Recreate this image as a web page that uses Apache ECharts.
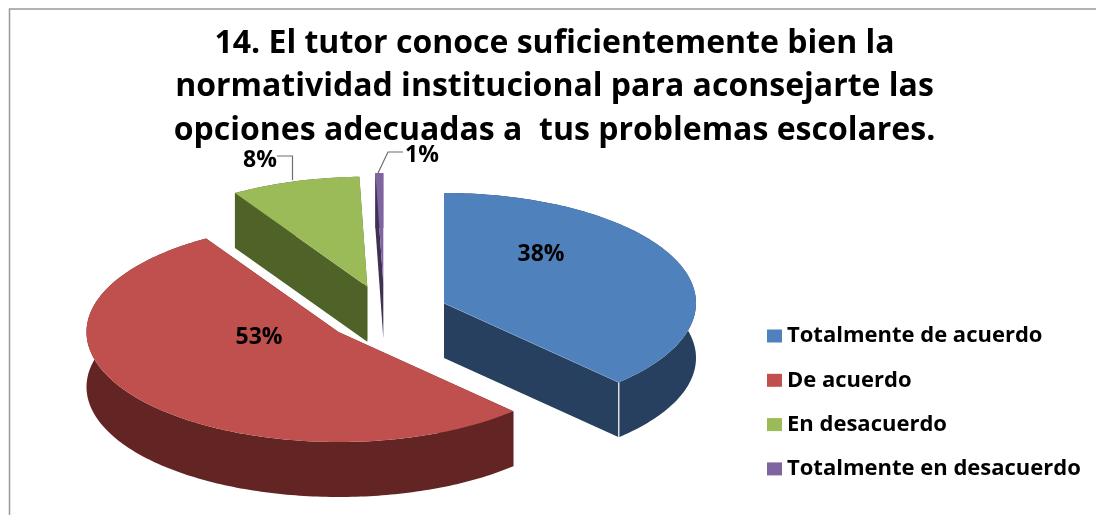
<!DOCTYPE html>
<html>
<head>
<meta charset="utf-8">
<style>
  html, body { margin: 0; padding: 0; background: #fff; }
  #chart { width: 1096px; height: 515px; }
</style>
</head>
<body>
<div id="chart"></div>
<script src="https://cdn.jsdelivr.net/npm/echarts@6/dist/echarts.min.js"></script>
<script>
const titleLines = [
  '14. El tutor conoce suficientemente bien la',
  'normatividad institucional para aconsejarte las',
  'opciones adecuadas a  tus problemas escolares.'
]
const categories = ['Totalmente de acuerdo', 'De acuerdo', 'En desacuerdo', 'Totalmente en desacuerdo']
// the labels show them rounded
const shares = [37.8, 53.4, 8.3, 0.5]

const topColors = ['#4F81BD', '#C0504D', '#9BBB59', '#8064A2']
const wallColors = ['#27405F', '#632523', '#4F6228', '#3F3151']
const font = '"Open Sans", sans-serif'

// pie layout: ellipse radii, wall height, and where each exploded slice has its tip
const radiusX = 252
const radiusY = 110
const depth = 55
const tips = [[444, 303], [338.5, 332], [367.3, 286.7], [383.3, 283]]
const labelCenters = [[541, 254], [259, 337], [260, 160], [422, 155]]
const leaders = [
  null,
  null,
  [[277, 156], [292.5, 156], [292.5, 180]],
  [[378, 173], [388, 152], [403, 152]]
]
// back slices are painted first
const paintOrder = [2, 3, 1, 4]

const total = shares.reduce((a, b) => a + b, 0)

// clockwise from twelve o'clock, in radians
const sliceAngles = (index) => {
  const before = shares.slice(0, index).reduce((a, b) => a + b, 0)
  return [before / total * Math.PI * 2, (before + shares[index]) / total * Math.PI * 2]
}

const renderSlice = (index) => (params, api) => {
  const [start, end] = sliceAngles(index)
  const [cx, cy] = tips[index]
  const edge = (a) => [cx + Math.sin(a) * radiusX, cy - Math.cos(a) * radiusY]
  const down = (p) => [p[0], p[1] + depth]

  const arc = []
  const steps = Math.max(2, Math.ceil((end - start) * 180 / Math.PI))
  for (let i = 0; i <= steps; i++) {
    arc.push(edge(start + (end - start) * i / steps))
  }
  const tip = [cx, cy]
  const wallFill = { fill: wallColors[index] }
  const children = [
    { type: 'polygon', shape: { points: [tip, arc[0], down(arc[0]), down(tip)] }, style: wallFill },
    { type: 'polygon', shape: { points: [tip, arc[steps], down(arc[steps]), down(tip)] }, style: wallFill },
    { type: 'polygon', shape: { points: arc.concat(arc.map(down).reverse()) }, style: wallFill }
  ]
  // thin white corner where the end of a slice faces the viewer
  if (Math.cos(end) < 0) {
    children.push({
      type: 'line',
      shape: { x1: arc[steps][0], y1: arc[steps][1], x2: arc[steps][0], y2: arc[steps][1] + depth },
      style: { stroke: '#fff', lineWidth: 1.2 }
    })
    children.push({
      type: 'line',
      shape: { x1: cx, y1: cy, x2: arc[steps][0], y2: arc[steps][1] },
      style: { stroke: '#A9C0DC', lineWidth: 1 }
    })
  }
  children.push({
    type: 'polygon',
    shape: { points: [tip].concat(arc) },
    style: { fill: topColors[index] }
  })
  if (leaders[index]) {
    children.push({
      type: 'polyline',
      shape: { points: leaders[index] },
      style: { stroke: '#6E6E6E', lineWidth: 1.2, fill: 'none' }
    })
  }
  children.push({
    type: 'text',
    style: {
      text: Math.round(api.value(0)) + '%',
      x: labelCenters[index][0],
      y: labelCenters[index][1],
      fill: '#000',
      font: 'bold 23px ' + font,
      textAlign: 'center',
      textVerticalAlign: 'middle'
    }
  })
  return { type: 'group', children: children }
}

const series = categories.map((name, index) => ({
  name: name,
  type: 'custom',
  coordinateSystem: 'none',
  z: paintOrder[index],
  animation: false,
  silent: true,
  itemStyle: { color: topColors[index] },
  data: [[shares[index]]],
  renderItem: renderSlice(index)
}))

const chart = echarts.init(document.getElementById('chart'), null, { renderer: 'canvas' })
chart.setOption({
  animation: false,
  backgroundColor: '#fff',
  title: {
    text: titleLines.join('\n'),
    left: 549.5,
    top: 17,
    textAlign: 'center',
    textStyle: {
      color: '#000',
      fontFamily: font,
      fontWeight: 'bold',
      fontSize: 32,
      lineHeight: 43.5
    }
  },
  legend: {
    data: categories,
    orient: 'vertical',
    left: 762,
    top: 320,
    icon: 'rect',
    itemWidth: 15,
    itemHeight: 13,
    itemGap: 22.3,
    selectedMode: false,
    textStyle: {
      color: '#000',
      fontFamily: font,
      fontWeight: 'bold',
      fontSize: 22,
      lineHeight: 22
    }
  },
  graphic: [{
    type: 'rect',
    silent: true,
    z: -1,
    shape: { x: 9.5, y: 9, width: 1300, height: 700 },
    style: { fill: 'none', stroke: '#999999', lineWidth: 1.5 }
  }],
  series: series
})
</script>
</body>
</html>
